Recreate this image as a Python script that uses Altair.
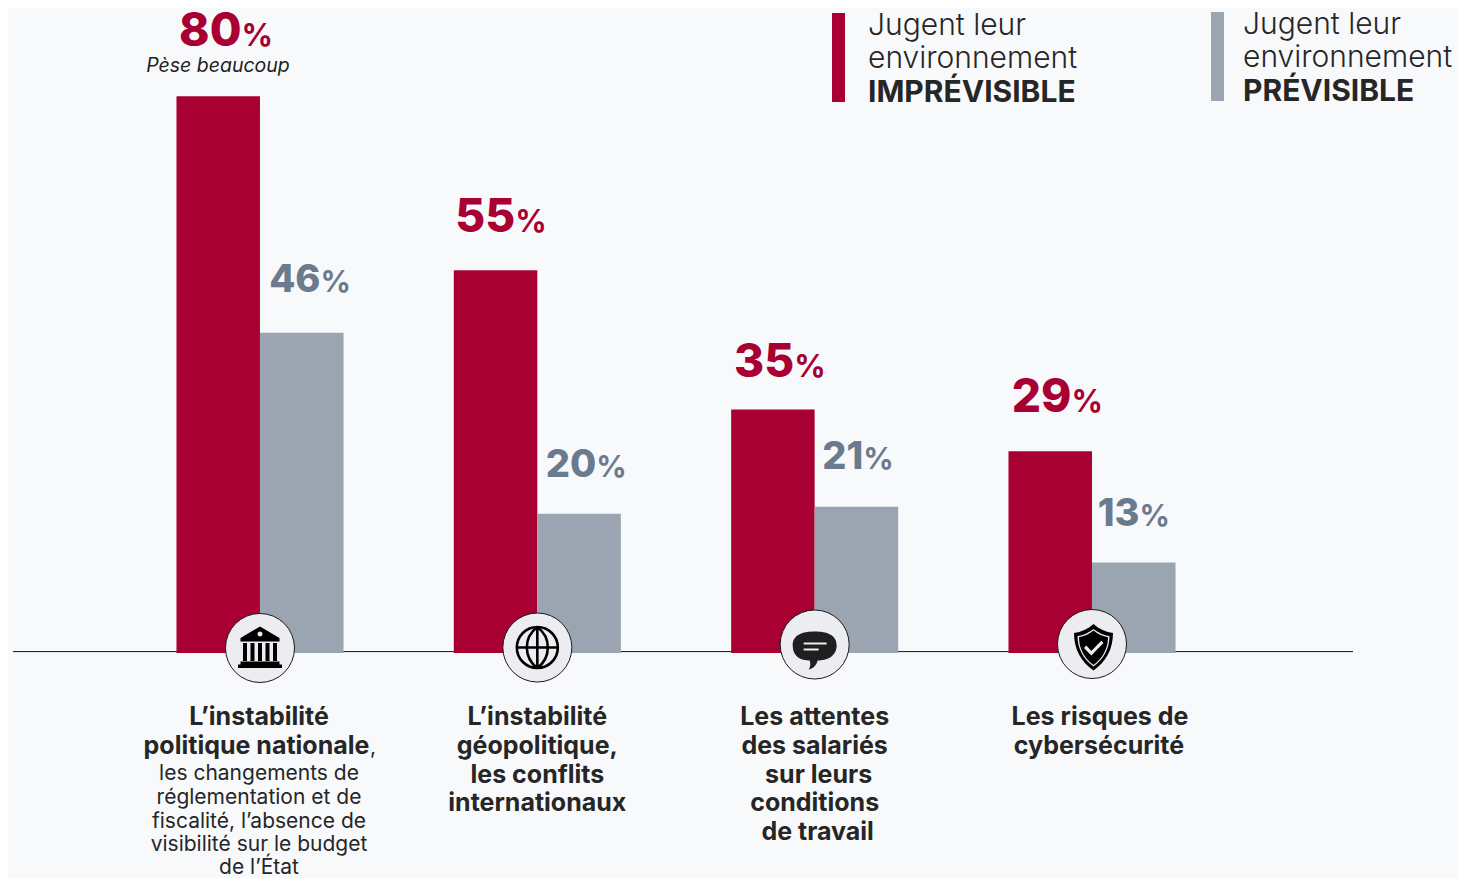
import altair as alt
import pandas as pd

FONT = "Inter"
RED = "#a80032"
GREY = "#9ba5b2"
GREY_TXT = "#6b7a8d"
INK = "#262626"
BG = "#f8f9fb"

categories = ["instabilite_nationale", "geopolitique", "salaries", "cyber"]
series = ["Imprévisible", "Prévisible"]
imprevisible = [80, 55, 35, 29]
previsible = [46, 20, 21, 13]

W, H = 1450, 870
ZERO = 645.0
PX = 6.96

X = alt.X("cat:N", axis=None, sort=categories,
          scale=alt.Scale(domain=categories, range=[113.33, 1222.67], paddingInner=0, paddingOuter=0))
Y_SCALE = alt.Scale(domain=[(ZERO - H) / PX, ZERO / PX], range=[H, 0], nice=False, zero=False)


def Y(field):
    return alt.Y(field, type="quantitative", axis=None, scale=Y_SCALE)


bars_df = pd.DataFrame(
    [{"cat": c, "serie": series[0], "v": v} for c, v in zip(categories, imprevisible)]
    + [{"cat": c, "serie": series[1], "v": v} for c, v in zip(categories, previsible)]
)

baseline = alt.Chart(pd.DataFrame({"v": [0.2]})).mark_rule(color="#111111", strokeWidth=1).encode(
    x=alt.value(5), x2=alt.value(1345), y=Y("v")
)

bars = alt.Chart(bars_df).mark_bar(size=83.5).encode(
    x=X,
    xOffset=alt.XOffset("serie:N", sort=series,
                        scale=alt.Scale(domain=series, paddingInner=0, paddingOuter=0.66)),
    y=Y("v"),
    color=alt.Color("serie:N", legend=None, scale=alt.Scale(domain=series, range=[RED, GREY])),
)


def txt(cat, v, text, size, weight, color, dx, dy, align="center", italic=False):
    df = pd.DataFrame({"cat": [cat], "v": [v], "t": [text]})
    kw = {"fontStyle": "italic"} if italic else {}
    return alt.Chart(df).mark_text(
        font=FONT, fontSize=size, fontWeight=weight, color=color, dx=dx, dy=dy,
        align=align, baseline="alphabetic", **kw
    ).encode(x=X, y=Y("v"), text="t:N")


layers = [baseline, bars]

red_dx = [-18.5, -22, -20.5, -20.5]
red_dy = [-50, -38, -32, -39]
grey_dx = [60.5, 59, 48.5, 47.5]
grey_dy = [-41, -37, -38, -37]
for c, v, dx, dy in zip(categories, imprevisible, red_dx, red_dy):
    layers.append(txt(c, v, str(v), 46, 800, RED, dx, dy, "right"))
    layers.append(txt(c, v, "%", 31, 700, RED, dx, dy, "left"))
for c, v, dx, dy in zip(categories, previsible, grey_dx, grey_dy):
    layers.append(txt(c, v, str(v), 38, 800, GREY_TXT, dx, dy, "right"))
    layers.append(txt(c, v, "%", 30, 700, GREY_TXT, dx, dy, "left"))

layers.append(txt(categories[0], imprevisible[0], "Pèse beaucoup", 19.5, 400, "#222222", -42, -24, italic=True))

# Category captions: (text, weight, dx, baseline offset under the zero line)
cap_1 = [("L’instabilité", 700, -1, 72), ("politique nationale", 700, -3.5, 101),
         ("les changements de", 400, -1, 127), ("réglementation et de", 400, -1, 151),
         ("fiscalité, l’absence de", 400, -1, 175), ("visibilité sur le budget", 400, -1, 198),
         ("de l’État", 400, -1, 221)]
cap_2 = [("L’instabilité", 700, 0, 72), ("géopolitique,", 700, 0, 101),
         ("les conflits", 700, 0, 130), ("internationaux", 700, 0, 158)]
cap_3 = [("Les attentes", 700, 0, 72), ("des salariés", 700, 0, 101), ("sur leurs", 700, 4, 130),
         ("conditions", 700, 0, 158), ("de travail", 700, 3, 187)]
cap_4 = [("Les risques de", 700, 8, 72), ("cybersécurité", 700, 7, 101)]
for c, cap in zip(categories, [cap_1, cap_2, cap_3, cap_4]):
    for t, w, dx, dy in cap:
        size = 25 if w == 700 else 21
        layers.append(txt(c, 0, t, size, w, INK, dx, dy))
layers.append(txt(categories[0], 0, ",", 21, 400, INK, 110, 101, "left"))

# Icon badges
icon_levels = [0.72, 0.79, 1.22, 1.29]
BANK = ("M0,-21.5 L19.5,-10 L19.5,-6.5 L-19.5,-6.5 L-19.5,-10 Z "
        "M0,-16.5 A2.5,2.5 0 1,0 0,-11.5 A2.5,2.5 0 1,0 0,-16.5 Z "
        "M-17,-5 L-13,-5 L-13,13 L-17,13 Z M-9.5,-5 L-5.5,-5 L-5.5,13 L-9.5,13 Z "
        "M-2,-5 L2,-5 L2,13 L-2,13 Z M5.5,-5 L9.5,-5 L9.5,13 L5.5,13 Z "
        "M13,-5 L17,-5 L17,13 L13,13 Z M-19.5,13.5 L19.5,13.5 L19.5,16.5 L22,16.5 L22,20 L-22,20 L-22,16.5 L-19.5,16.5 Z")
GLOBE = ("M-20.5,0 A20.5,20.5 0 1,1 20.5,0 A20.5,20.5 0 1,1 -20.5,0 Z M-20.5,0 L20.5,0 M0,-20.5 L0,20.5 "
         "M0,-20.5 C-14,-10 -14,10 0,20.5 M0,-20.5 C14,-10 14,10 0,20.5")
BUBBLE = ("M-22,1 C-22,-10 -12,-13 0,-13 C12,-13 22,-10 22,1 C22,12 12,16 3,16 C2,20 -1,24 -6,25 "
          "C-4,22 -4,19 -5,16 C-14,16 -22,12 -22,1 Z "
          "M-11,-2 L-11,0 L12,0 L12,-2 Z M-11,4 L-11,6 L4,6 L4,4 Z")
SHIELD = ("M1.5,-20 C7,-15 14,-12 21,-11 C21,5 14,18 1.5,26.5 C-11,18 -18,5 -18,-11 C-11,-12 -4,-15 1.5,-20 Z "
          "M1.5,-15 C-3,-11.5 -9,-8.5 -14.5,-8 C-14.5,4 -9,15 1.5,22.5 C12,15 17.5,4 17.5,-8 C12,-8.5 6,-11.5 1.5,-15 Z "
          "M1.5,-13.5 C6,-10 11,-7.5 16,-6.8 C16,4 11,14 1.5,21 C-8,14 -13,4 -13,-6.8 C-8,-7.5 -3,-10 1.5,-13.5 Z "
          "M-5.7,1.5 L-8,4 L-0.7,11.5 L11.5,-1 L9.3,-3.2 L-0.7,7 Z")

circles_df = pd.DataFrame({"cat": categories, "v": icon_levels})
layers.append(alt.Chart(circles_df).mark_point(
    shape="circle", filled=True, fill="#ecedf1", stroke="#1a1a1a", strokeWidth=1, opacity=1, size=4761
).encode(x=X, y=Y("v")))

icon_shapes = [BANK, GLOBE, BUBBLE, SHIELD]
for c, lv, s in zip(categories, icon_levels, icon_shapes):
    df = pd.DataFrame({"cat": [c], "v": [lv]})
    if s is GLOBE:
        m = alt.Chart(df).mark_point(shape=s, filled=False, stroke="#000000", strokeWidth=2.6, opacity=1, size=4)
    else:
        col = "#1f1f1f" if s is BUBBLE else "#000000"
        m = alt.Chart(df).mark_point(shape=s, filled=True, fill=col, strokeWidth=0, opacity=1, size=4)
    layers.append(m.encode(x=X, y=Y("v")))

# Legend
legend_x = [824, 1203]
legend_text_x = [860, 1235]
legend_top = [5, 4]
legend_words = ["IMPRÉVISIBLE", "PRÉVISIBLE"]
legend_cols = [RED, GREY]
for lx, tx, top, word, col in zip(legend_x, legend_text_x, legend_top, legend_words, legend_cols):
    layers.append(alt.Chart(pd.DataFrame({"k": [word]})).mark_rect(color=col).encode(
        x=alt.value(lx), x2=alt.value(lx + 13), y=alt.value(top), y2=alt.value(top + 89)))
    for t, w, off in [("Jugent leur", 300, 22), ("environnement", 300, 55), (word, 700, 89)]:
        layers.append(alt.Chart(pd.DataFrame({"t": [t]})).mark_text(
            font=FONT, fontSize=30, fontWeight=w, color=INK, align="left", baseline="alphabetic"
        ).encode(x=alt.value(tx), y=alt.value(top + off), text="t:N"))

chart = alt.layer(*layers).properties(
    width=W, height=H, background=BG, padding=0, autosize=alt.AutoSizeParams(type="none")
).configure_view(stroke=None)

chart.save("out.html", embed_options={"renderer": "svg", "actions": False})
